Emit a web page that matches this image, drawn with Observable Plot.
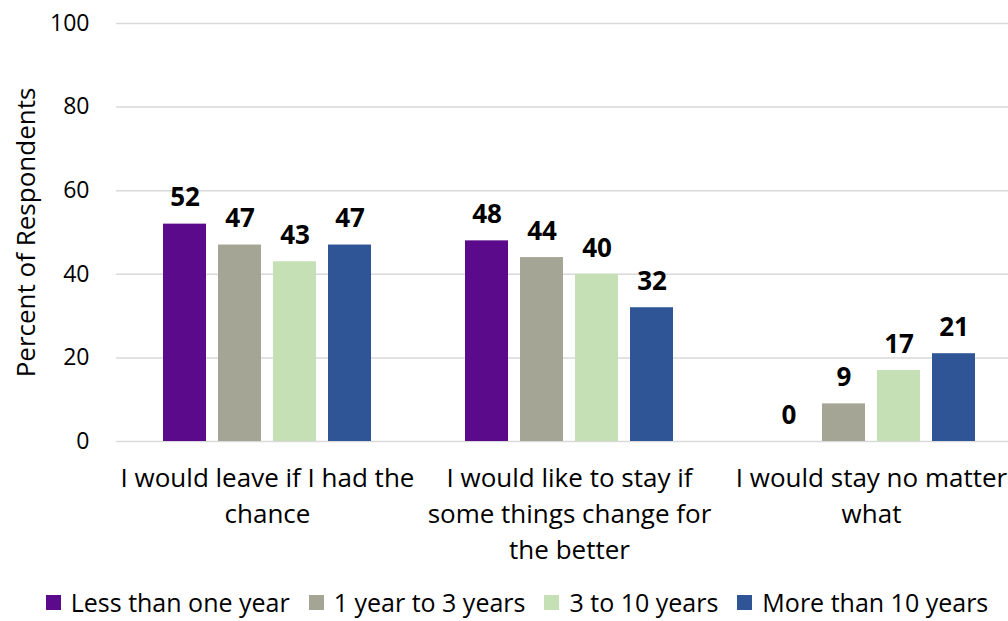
<!DOCTYPE html>
<html>
<head>
<meta charset="utf-8">
<script src="https://cdn.jsdelivr.net/npm/d3@7"></script>
<script src="https://cdn.jsdelivr.net/npm/@observablehq/plot@0.6"></script>
<style>
  html, body { margin: 0; padding: 0; background: #fff; overflow: hidden; }
  #chart svg { max-width: none !important; display: block; }
  .legend {
    width: 1023px; box-sizing: border-box; padding-left: 11px; margin-top: -3px;
    display: flex; justify-content: center; align-items: center;
    font-family: "Open Sans", sans-serif; font-size: 25px; color: #000;
    height: 34px; line-height: 34px; white-space: nowrap;
  }
  .legend .item { display: flex; align-items: center; margin: 0 9.5px; }
  .legend .sw { width: 15px; height: 15px; margin-right: 10px; }
</style>
</head>
<body>
<div id="chart"></div>
<script>
// Survey answers grouped by length of residence
const categories = [
  "I would leave if I had the chance",
  "I would like to stay if some things change for the better",
  "I would stay no matter what"
];
const categoryLabels = [
  "I would leave if I had the\nchance",
  "I would like to stay if\nsome things change for\nthe better",
  "I would stay no matter\nwhat"
];
const seriesNames = ["Less than one year", "1 year to 3 years", "3 to 10 years", "More than 10 years"];
const seriesColors = ["#5a0a8a", "#a4a595", "#c5e0b4", "#2f5597"];

const lessThanOneYear = [52, 48, 0];
const oneToThreeYears = [47, 44, 9];
const threeToTenYears = [43, 40, 17];
const moreThanTenYears = [47, 32, 21];

const yTicks = [0, 20, 40, 60, 80, 100];

const seriesValues = [lessThanOneYear, oneToThreeYears, threeToTenYears, moreThanTenYears];
const rows = [];
categories.forEach((c, i) => {
  seriesNames.forEach((s, j) => rows.push({category: c, series: s, value: seriesValues[j][i]}));
});

const plot = Plot.plot({
  width: 1023,
  height: 588,
  marginLeft: 115,
  marginRight: 0,
  marginTop: 23,
  marginBottom: 147,
  style: {fontFamily: "'Open Sans', sans-serif", color: "#000", background: "#fff", overflow: "visible"},
  fx: {domain: categories, padding: 0, axis: null},
  x: {domain: seriesNames, paddingInner: 0.214, paddingOuter: 0.807, axis: null},
  y: {domain: [0, 100]},
  color: {domain: seriesNames, range: seriesColors},
  marks: [
    Plot.ruleY(yTicks, {stroke: "#d9d9d9", strokeWidth: 1.5}),
    Plot.axisY(yTicks, {tickSize: 0, tickPadding: 27, fontSize: 23, label: null}),
    Plot.axisY([], {
      tickSize: 0, fontSize: 26,
      label: "Percent of Respondents", labelAnchor: "center", labelOffset: 100, labelArrow: "none"
    }),
    Plot.barY(rows, {fx: "category", x: "series", y: "value", fill: "series"}),
    Plot.text(rows, {
      fx: "category", x: "series", y: "value", text: d => String(d.value),
      dy: -26, fontWeight: "bold", fontSize: 26, fill: "#000"
    }),
    Plot.text(categories, {
      fx: d => d, text: categoryLabels, frameAnchor: "bottom", lineAnchor: "top",
      dy: 20, lineHeight: 1.385, fontSize: 26, fill: "#000"
    })
  ]
});
plot.style.maxWidth = "none";
document.getElementById("chart").appendChild(plot);

// Legend row under the chart
const legend = d3.select("body").append("div").attr("class", "legend");
const items = legend.selectAll(".item").data(seriesNames).join("div").attr("class", "item");
items.append("div").attr("class", "sw").style("background", (d, i) => seriesColors[i]);
items.append("span").text(d => d);
</script>
</body>
</html>
